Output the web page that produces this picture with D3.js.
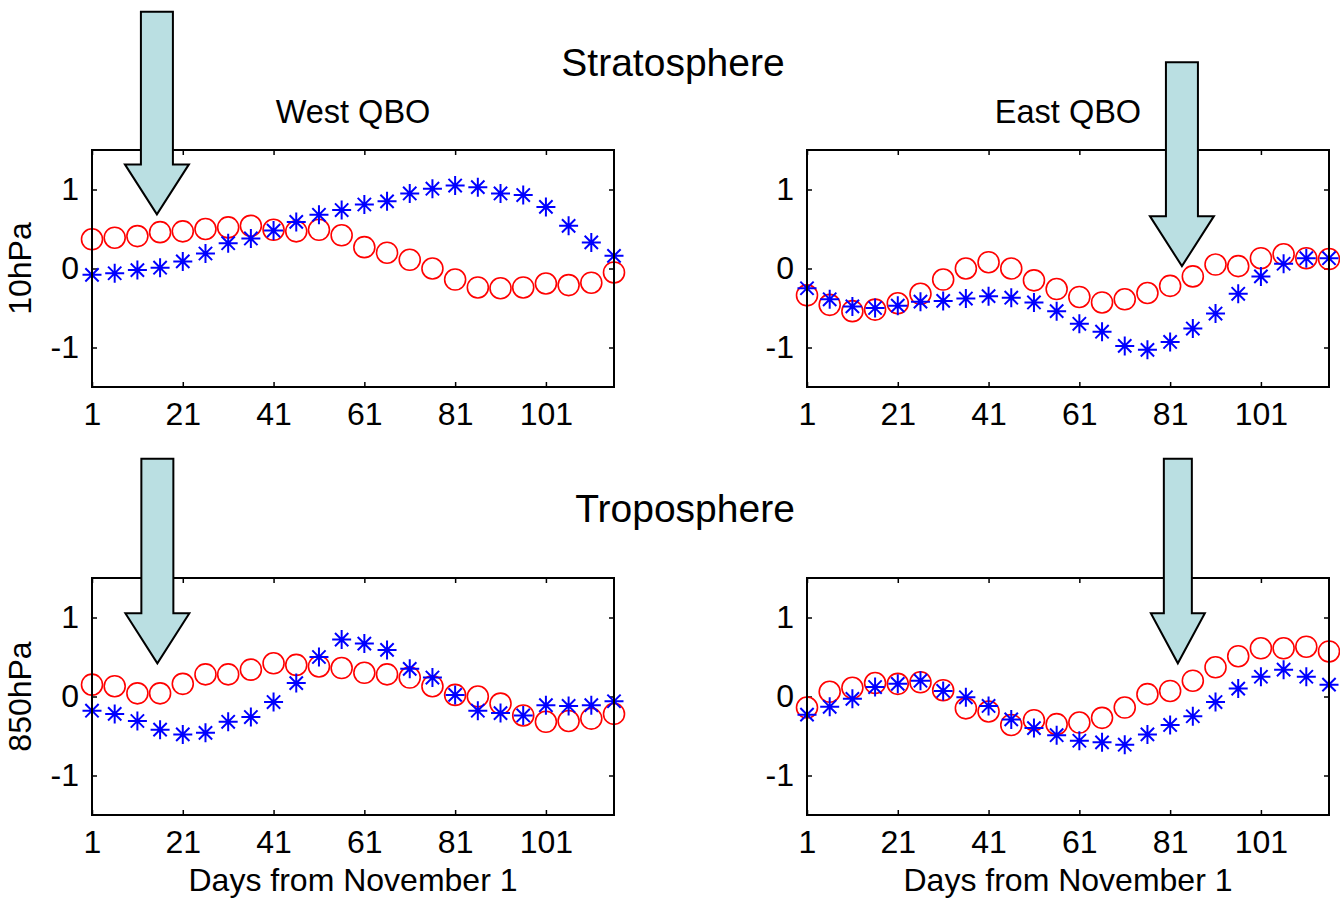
<!DOCTYPE html>
<html><head><meta charset="utf-8">
<script src="https://cdn.jsdelivr.net/npm/d3@7"></script>
<style>
body{margin:0;background:#fff}
svg{display:block}
text{font-family:"Liberation Sans",Arial,Helvetica,sans-serif;fill:#000}
</style>
</head><body>
<svg id="chart" width="1340" height="899"></svg>
<script>
// ---- data ----
const days = [1,6,11,16,21,26,31,36,41,46,51,56,61,66,71,76,81,86,91,96,101,106,111,116];
const xTickValues = [1,21,41,61,81,101];
const yTickValues = [-1,0,1];
const sectionTitles = ["Stratosphere","Troposphere"];
const columnTitles = ["West QBO","East QBO"];
const levelLabels = ["10hPa","850hPa"];
const xLabel = "Days from November 1";

// 10hPa, West QBO
const stratWestCircle = [0.37,0.39,0.41,0.46,0.47,0.50,0.52,0.54,0.49,0.47,0.49,0.42,0.27,0.20,0.11,0.00,-0.14,-0.24,-0.25,-0.24,-0.19,-0.21,-0.18,-0.05];
const stratWestStar   = [-0.08,-0.06,-0.02,0.01,0.09,0.19,0.32,0.38,0.48,0.59,0.68,0.74,0.81,0.85,0.95,1.01,1.05,1.03,0.95,0.93,0.78,0.54,0.33,0.16];
// 10hPa, East QBO
const stratEastCircle = [-0.34,-0.46,-0.54,-0.52,-0.44,-0.32,-0.14,0.00,0.08,0.00,-0.15,-0.26,-0.36,-0.43,-0.39,-0.31,-0.22,-0.10,0.05,0.03,0.13,0.18,0.13,0.12];
const stratEastStar   = [-0.25,-0.39,-0.48,-0.50,-0.47,-0.42,-0.41,-0.38,-0.35,-0.37,-0.43,-0.54,-0.70,-0.80,-0.98,-1.03,-0.93,-0.76,-0.57,-0.32,-0.10,0.06,0.13,0.13];
// 850hPa, West QBO
const tropWestCircle = [0.15,0.13,0.04,0.04,0.16,0.28,0.28,0.34,0.42,0.40,0.38,0.36,0.30,0.28,0.24,0.13,0.02,0.00,-0.09,-0.24,-0.32,-0.31,-0.28,-0.22];
const tropWestStar   = [-0.18,-0.22,-0.31,-0.42,-0.48,-0.46,-0.32,-0.26,-0.07,0.17,0.50,0.72,0.67,0.59,0.35,0.24,0.02,-0.18,-0.21,-0.24,-0.11,-0.12,-0.11,-0.06];
// 850hPa, East QBO
const tropEastCircle = [-0.14,0.06,0.11,0.17,0.16,0.18,0.08,-0.15,-0.19,-0.36,-0.30,-0.35,-0.33,-0.27,-0.14,0.03,0.07,0.20,0.37,0.51,0.61,0.61,0.63,0.57];
const tropEastStar   = [-0.23,-0.13,-0.03,0.12,0.16,0.20,0.07,-0.01,-0.12,-0.29,-0.40,-0.49,-0.56,-0.58,-0.61,-0.48,-0.36,-0.25,-0.07,0.10,0.25,0.34,0.25,0.15];

// arrow annotations: day pointed at, tip value, tail value
const arrowDays = [15.3, 83.6, 15.4, 82.7];
const arrowTips = [0.685, 0.03, 0.42, 0.42];
const arrowTails = [3.25, 2.61, 3.01, 3.01];

// ---- layout ----
const svg = d3.select("#chart");
const panelW = 522, panelH = 237;
const panels = [
  {x:92,  y:150, circ:stratWestCircle, star:stratWestStar, a:0, row:0, col:0},
  {x:807, y:150, circ:stratEastCircle, star:stratEastStar, a:1, row:0, col:1},
  {x:92,  y:578, circ:tropWestCircle,  star:tropWestStar,  a:2, row:1, col:0},
  {x:807, y:578, circ:tropEastCircle,  star:tropEastStar,  a:3, row:1, col:1}
];

const x = d3.scaleLinear().domain([1,116]).range([0,panelW]);
const y = d3.scaleLinear().domain([-1.5,1.5]).range([panelH,0]);

const starR = 9.5, starD = starR*0.7;
const starPath = `M${-starR},0L${starR},0M0,${-starR}L0,${starR}M${-starD},${-starD}L${starD},${starD}M${-starD},${starD}L${starD},${-starD}`;

panels.forEach(p => {
  const g = svg.append("g").attr("transform",`translate(${p.x},${p.y})`);

  // axes (ticks inward)
  const xb = g.append("g").attr("transform",`translate(0,${panelH})`)
    .call(d3.axisBottom(x).tickValues(xTickValues).tickFormat(d3.format("d")).tickSizeInner(-5).tickSizeOuter(0).tickPadding(15));
  const xt = g.append("g")
    .call(d3.axisTop(x).tickValues(xTickValues).tickFormat("").tickSizeInner(-5).tickSizeOuter(0));
  const yl = g.append("g")
    .call(d3.axisLeft(y).tickValues(yTickValues).tickFormat(d3.format("d")).tickSizeInner(-5).tickSizeOuter(0).tickPadding(13));
  const yr = g.append("g").attr("transform",`translate(${panelW},0)`)
    .call(d3.axisRight(y).tickValues(yTickValues).tickFormat("").tickSizeInner(-5).tickSizeOuter(0));
  [xb,xt,yl,yr].forEach(a => {
    a.select(".domain").remove();
    a.selectAll(".tick line").attr("stroke","#000").attr("stroke-width",1.5);
    a.selectAll("text").style("font-size","32px").attr("fill","#000")
      .style("font-family","'Liberation Sans',Arial,sans-serif");
  });
  yl.selectAll(".tick text").text(d => d === -1 ? "-1" : d);

  // markers
  g.selectAll("circle.c").data(p.circ).join("circle").attr("class","c")
    .attr("cx",(d,i)=>x(days[i])).attr("cy",d=>y(d)).attr("r",10.5)
    .attr("fill","none").attr("stroke","#ff0000").attr("stroke-width",1.6);
  g.selectAll("path.s").data(p.star).join("path").attr("class","s")
    .attr("transform",(d,i)=>`translate(${x(days[i])},${y(d)})`)
    .attr("d",starPath).attr("fill","none").attr("stroke","#0000ff").attr("stroke-width",2);

  // box
  g.append("rect").attr("width",panelW).attr("height",panelH)
    .attr("fill","none").attr("stroke","#000").attr("stroke-width",2);

  // x label on bottom row
  if (p.row === 1) {
    g.append("text").attr("x",panelW/2).attr("y",panelH+76)
      .attr("text-anchor","middle").style("font-size","32px").text(xLabel);
  }
  // y label on left column
  if (p.col === 0) {
    g.append("text").attr("transform",`translate(${-61},${y(0)}) rotate(-90)`)
      .attr("text-anchor","middle").style("font-size","32px").text(levelLabels[p.row]);
  }
  // column titles on top row
  if (p.row === 0) {
    g.append("text").attr("x",panelW/2).attr("y",-27)
      .attr("text-anchor","middle").style("font-size","32.5px").text(columnTitles[p.col]);
  }

  // arrow
  const ad = arrowDays[p.a];
  const cx = x(ad), tipY = y(arrowTips[p.a]), tailY = y(arrowTails[p.a]);
  const sw = p.a === 3 ? 14 : 16, hw = p.a === 3 ? 27 : 32, hh = 50;
  const headY = tipY - hh;
  const pts = [[cx-sw,tailY],[cx+sw,tailY],[cx+sw,headY],[cx+hw,headY],[cx,tipY],[cx-hw,headY],[cx-sw,headY]];
  g.append("path").attr("d", d3.line()(pts) + "Z")
    .attr("fill","#badfe2").attr("stroke","#000").attr("stroke-width",2).attr("stroke-linejoin","miter");
});

// section titles
svg.append("text").attr("x",673).attr("y",76).attr("text-anchor","middle")
  .style("font-size","39px").attr("fill","#222").text(sectionTitles[0]);
svg.append("text").attr("x",685).attr("y",522).attr("text-anchor","middle")
  .style("font-size","39px").attr("fill","#222").text(sectionTitles[1]);
</script>
</body></html>
